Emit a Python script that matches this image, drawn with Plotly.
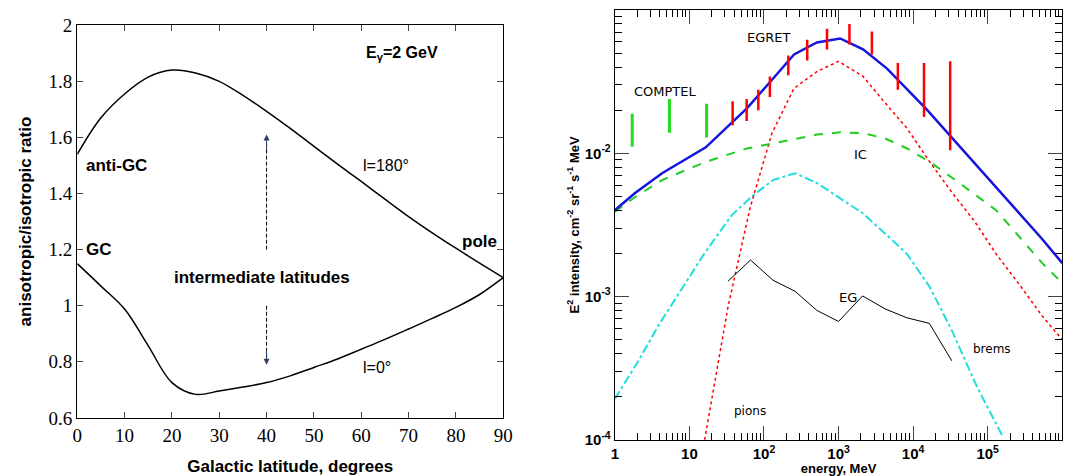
import plotly.graph_objects as go
import math

# ---- left panel data ----
lat = [0, 5, 10, 15, 20, 25, 30, 35, 40, 45, 50, 55, 60, 65, 70, 75, 80, 85, 90]
ratio_l180 = [1.54, 1.67, 1.755, 1.815, 1.84, 1.83, 1.80, 1.75, 1.693, 1.632, 1.568, 1.505, 1.443, 1.38, 1.318, 1.26, 1.205, 1.152, 1.10]
ratio_l0 = [1.15, 1.07, 0.988, 0.857, 0.726, 0.684, 0.696, 0.71, 0.726, 0.75, 0.78, 0.81, 0.845, 0.88, 0.917, 0.955, 0.994, 1.04, 1.10]

# ---- right panel data ----
E_tot = [1, 1.85, 4.3, 16.6, 32, 59, 120, 253, 513, 1050, 2130, 4470, 15500, 537000, 1e6]
I_tot = [0.0040, 0.00526, 0.00726, 0.0110, 0.0152, 0.0206, 0.0313, 0.049, 0.0594, 0.0633, 0.0531, 0.039, 0.0200, 0.00252, 0.00171]
E_pi = [16, 33, 65, 128, 253, 513, 1000, 2130, 3940, 8300, 16800, 33000, 68000, 130000, 270000, 540000, 1e6]
I_pi = [1e-4, 0.00085, 0.00414, 0.0138, 0.0284, 0.0372, 0.0438, 0.0344, 0.0234, 0.0149, 0.00866, 0.00535, 0.0033, 0.00198, 0.0012, 0.00073, 0.0005]
E_ic = [1, 1.85, 4.3, 16, 59, 128, 260, 513, 1050, 2130, 4200, 8300, 16800, 34000, 130000, 540000, 1e6]
I_ic = [0.0039, 0.00493, 0.0065, 0.00866, 0.0108, 0.0117, 0.0127, 0.0135, 0.0140, 0.0138, 0.0127, 0.0108, 0.0087, 0.0067, 0.0040, 0.00171, 0.00124]
E_br = [1, 2.1, 4, 16, 37, 69, 132, 260, 513, 1050, 2130, 4900, 8300, 16800, 33000, 72000, 160000]
I_br = [0.000193, 0.00036, 0.00065, 0.00201, 0.0037, 0.0050, 0.0065, 0.00726, 0.0062, 0.00485, 0.0038, 0.00256, 0.00198, 0.00116, 0.00058, 0.000234, 0.000105]
E_eg = [33, 66, 132, 260, 513, 1000, 2100, 4200, 8300, 16500, 33000]
I_eg = [0.00128, 0.00180, 0.00130, 0.00109, 0.00080, 0.00067, 0.00101, 0.00082, 0.00071, 0.00065, 0.000356]
E_egret = [38, 58.6, 84, 120, 212, 380, 700, 1400, 2800, 6240, 14000, 31400]
lo_egret = [0.0157, 0.0168, 0.0200, 0.0247, 0.035, 0.0445, 0.0531, 0.0575, 0.049, 0.0278, 0.0179, 0.0105]
hi_egret = [0.0231, 0.0239, 0.0278, 0.0344, 0.0482, 0.062, 0.074, 0.080, 0.0708, 0.0426, 0.0426, 0.0438]
E_comptel = [1.71, 5.4, 17]
lo_comptel = [0.0111, 0.0139, 0.0129]
hi_comptel = [0.0189, 0.0239, 0.0222]


def segs(xs, lo, hi):
    X, Y = [], []
    for x, a, b in zip(xs, lo, hi):
        X += [x, x, None]
        Y += [a, b, None]
    return X, Y


fig = go.Figure()
# left
fig.add_trace(go.Scatter(x=lat, y=ratio_l180, mode="lines", line=dict(color="black", width=1.5, shape="spline"), xaxis="x", yaxis="y"))
fig.add_trace(go.Scatter(x=lat, y=ratio_l0, mode="lines", line=dict(color="black", width=1.5, shape="spline"), xaxis="x", yaxis="y"))
fig.add_trace(go.Scatter(x=[40, 40], y=[1.2, 1.58], mode="lines", line=dict(color="black", width=1, dash="4px,2px"), xaxis="x", yaxis="y"))
fig.add_trace(go.Scatter(x=[40, 40], y=[1.0, 0.8], mode="lines", line=dict(color="black", width=1, dash="4px,2px"), xaxis="x", yaxis="y"))

# right
cx, cy = segs(E_comptel, lo_comptel, hi_comptel)
fig.add_trace(go.Scatter(x=cx, y=cy, mode="lines", line=dict(color="#22dd22", width=3), xaxis="x2", yaxis="y2"))
fig.add_trace(go.Scatter(x=E_br, y=I_br, mode="lines", line=dict(color="#22dddd", width=2, dash="dashdot"), xaxis="x2", yaxis="y2"))
fig.add_trace(go.Scatter(x=E_pi, y=I_pi, mode="lines", line=dict(color="red", width=1.5, dash="dot"), xaxis="x2", yaxis="y2"))
fig.add_trace(go.Scatter(x=E_ic, y=I_ic, mode="lines", line=dict(color="#22cc22", width=2, dash="dash"), xaxis="x2", yaxis="y2"))
fig.add_trace(go.Scatter(x=E_eg, y=I_eg, mode="lines", line=dict(color="black", width=1), xaxis="x2", yaxis="y2"))
fig.add_trace(go.Scatter(x=E_tot, y=I_tot, mode="lines", line=dict(color="#1515dd", width=2.5), xaxis="x2", yaxis="y2"))
ex, ey = segs(E_egret, lo_egret, hi_egret)
fig.add_trace(go.Scatter(x=ex, y=ey, mode="lines", line=dict(color="red", width=2.5), xaxis="x2", yaxis="y2"))

minor_x = [m * 10 ** d for d in range(0, 6) for m in range(2, 10)]
minor_y = [m * 10 ** d for d in range(-4, -1) for m in range(2, 10)]

serif = "Liberation Serif, Times New Roman, DejaVu Serif, serif"
sans = "Liberation Sans"
ax_common = dict(showline=True, linecolor="black", linewidth=1.2, mirror="ticks", ticks="inside",
                 showgrid=False, zeroline=False, automargin=False)
fig.update_layout(
    width=1073, height=476, showlegend=False, plot_bgcolor="white", paper_bgcolor="white",
    margin=dict(l=0, r=0, t=0, b=0),
    xaxis=dict(domain=[0.072, 0.469], range=[0, 90], dtick=10, ticklen=6, anchor="y",
               tickfont=dict(family=serif, size=19, color="black"),
               title=dict(text="<b>Galactic latitude, degrees</b>", font=dict(family=sans, size=17, color="black"), standoff=18),
               **ax_common),
    yaxis=dict(domain=[0.122, 0.947], range=[0.6, 2], dtick=0.2, ticklen=6, anchor="x",
               tickfont=dict(family=serif, size=19, color="black"),
               title=dict(text="<b>anisotropic/isotropic ratio</b>", font=dict(family=sans, size=17, color="black"), standoff=12),
               **ax_common),
    xaxis2=dict(domain=[0.573, 0.990], type="log", range=[0, 6], anchor="y2", ticklen=14,
                tickvals=[1, 10, 100, 1000, 1e4, 1e5, 1e6],
                ticktext=["<b>1</b>", "<b>10</b>", "<b>10<sup>2</sup></b>", "<b>10<sup>3</sup></b>", "<b>10<sup>4</sup></b>", "<b>10<sup>5</sup></b>", "<b>10<sup>6</sup></b>"],
                minor=dict(ticks="inside", ticklen=7, tickvals=minor_x, tickcolor="black"),
                tickfont=dict(family=sans, size=15, color="black"),
                title=dict(text="<b>energy, MeV</b>", font=dict(family=sans, size=13, color="black"), standoff=0),
                **ax_common),
    yaxis2=dict(domain=[0.076, 0.979], type="log", range=[-4, -1], anchor="x2", ticklen=14,
                tickvals=[1e-4, 1e-3, 1e-2],
                ticktext=["<b>10<sup>-4</sup></b>", "<b>10<sup>-3</sup></b>", "<b>10<sup>-2</sup></b>"],
                minor=dict(ticks="inside", ticklen=7, tickvals=minor_y, tickcolor="black"),
                tickfont=dict(family=sans, size=15, color="black"),
                title=dict(text="<b>E<sup>2</sup> intensity, cm<sup>-2</sup> sr<sup>-1</sup> s<sup>-1</sup> MeV</b>", font=dict(family=sans, size=13, color="black"), standoff=2),
                **ax_common),
)

def ann(x, y, text, size=17, bold=True, xanchor="left"):
    fig.add_annotation(x=x, y=y, xref="x", yref="y", text=(f"<b>{text}</b>" if bold else text), showarrow=False,
                       font=dict(family=sans, size=size, color="black"), xanchor=xanchor)

ann(60.5, 1.9, "E<sub>γ</sub>=2 GeV", size=16)
ann(1.5, 1.5, "anti-GC", size=17)
ann(1.5, 1.2, "GC", size=17)
ann(20, 1.1, "intermediate latitudes", size=17)
ann(60, 1.5, "l=180°", size=16, bold=False)
ann(60, 0.78, "l=0°", size=16, bold=False)
ann(89, 1.23, "pole", size=17, xanchor="right")
fig.add_annotation(x=40, y=1.61, ax=40, ay=1.55, xref="x", yref="y", axref="x", ayref="y", text="", showarrow=True, arrowhead=2, arrowwidth=1, arrowsize=1.2)
fig.add_annotation(x=40, y=0.79, ax=40, ay=0.85, xref="x", yref="y", axref="x", ayref="y", text="", showarrow=True, arrowhead=2, arrowwidth=1, arrowsize=1.2)

def ann2(E, I, text, size=13):
    fig.add_annotation(x=math.log10(E), y=math.log10(I), xref="x2", yref="y2", text=text, showarrow=False,
                       font=dict(family="DejaVu Sans", size=size, color="black"), xanchor="left")
ann2(1.7, 0.027, "COMPTEL")
ann2(55, 0.064, "EGRET")
ann2(1500, 0.0098, "IC")
ann2(950, 0.00098, "EG")
ann2(60000, 0.00043, "brems", size=12)
ann2(37, 0.00016, "pions", size=12)

fig.write_html("out.html", config={"displayModeBar": False},
               post_script="document.body.style.margin='0';document.body.style.overflow='hidden';")
